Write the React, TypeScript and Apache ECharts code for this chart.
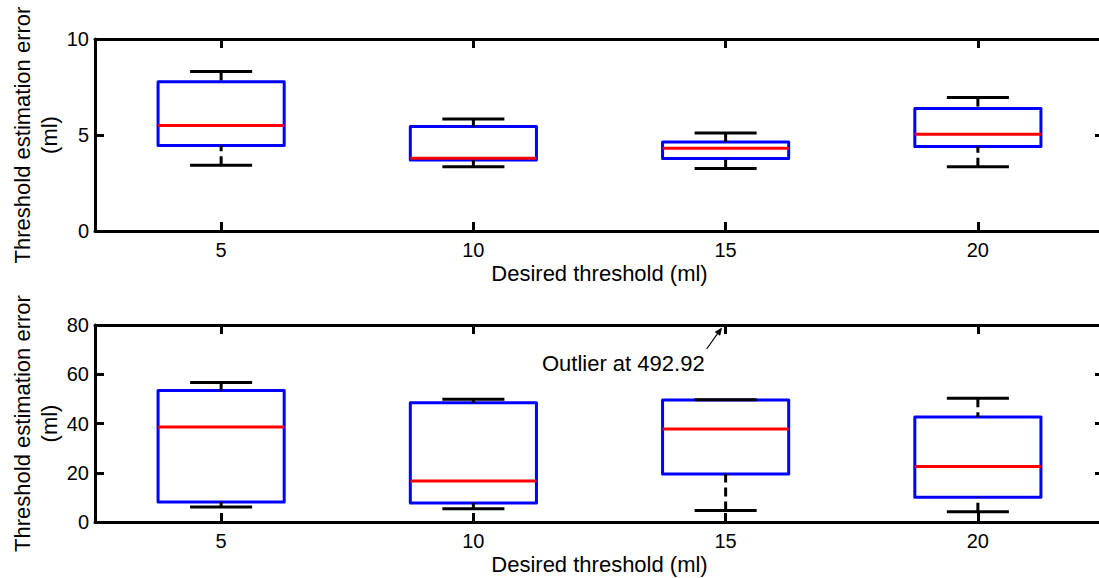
import React, { useEffect, useRef } from "react";
import * as echarts from "echarts";

// Desired threshold groups (ml)
const categories = ["5", "10", "15", "20"];

// Box statistics per group: [lower whisker, Q1, median, Q3, upper whisker]
const topStats = [
  [3.43, 4.45, 5.49, 7.77, 8.31],
  [3.35, 3.7, 3.79, 5.44, 5.83],
  [3.25, 3.77, 4.31, 4.64, 5.1],
  [3.35, 4.4, 5.04, 6.38, 6.95],
];
const bottomStats = [
  [6.1, 8.1, 38.6, 53.4, 56.6],
  [5.4, 7.7, 16.7, 48.4, 49.8],
  [4.7, 19.5, 37.8, 49.5, 49.6],
  [4.2, 10.1, 22.5, 42.6, 50.3],
];
// Outliers lying above the visible range, per group
const bottomOutliers: (number | null)[] = [null, null, 492.92, null];

const topTicks = { min: 0, max: 10, interval: 5 };
const bottomTicks = { min: 0, max: 80, interval: 20 };

const FONT = "'Liberation Sans', Arial, Helvetica, sans-serif";
const BLACK = "#000000";

function makeRenderer(outliers: (number | null)[], yMax: number) {
  return (params: any, api: any) => {
    const i = api.value(0);
    const lo = api.value(1);
    const q1 = api.value(2);
    const med = api.value(3);
    const q3 = api.value(4);
    const hi = api.value(5);
    const band = api.size([1, 0])[0];
    const half = band * 0.25;
    const capHalf = band * 0.123;
    const pLo = api.coord([i, lo]);
    const pQ1 = api.coord([i, q1]);
    const pMed = api.coord([i, med]);
    const pQ3 = api.coord([i, q3]);
    const pHi = api.coord([i, hi]);
    const cx = pMed[0];
    const whisker = { stroke: BLACK, lineWidth: 3, lineDash: [9, 5], fill: null };
    const solid = { stroke: BLACK, lineWidth: 3, fill: null };
    const children: any[] = [
      {
        type: "rect",
        shape: { x: cx - half, y: pQ3[1], width: half * 2, height: pQ1[1] - pQ3[1] },
        style: { fill: "none", stroke: "#0000ff", lineWidth: 3, lineJoin: "round" },
      },
      { type: "line", shape: { x1: cx, y1: pHi[1], x2: cx, y2: pQ3[1] }, style: whisker },
      { type: "line", shape: { x1: cx, y1: pLo[1], x2: cx, y2: pQ1[1] }, style: whisker },
      { type: "line", shape: { x1: cx - capHalf, y1: pHi[1], x2: cx + capHalf, y2: pHi[1] }, style: solid },
      { type: "line", shape: { x1: cx - capHalf, y1: pLo[1], x2: cx + capHalf, y2: pLo[1] }, style: solid },
      {
        type: "line",
        shape: { x1: cx - half, y1: pMed[1], x2: cx + half, y2: pMed[1] },
        style: { stroke: "#ff0000", lineWidth: 3, fill: null },
      },
    ];
    const out = outliers[params.dataIndex];
    if (out != null && out > yMax) {
      const top = api.coord([i, yMax]);
      const tipX = top[0] - 4;
      const tipY = top[1] + 3;
      const tailX = top[0] - 19;
      const tailY = top[1] + 24;
      const ang = Math.atan2(tipY - tailY, tipX - tailX);
      const hl = 7;
      const hw = 3;
      const bx = tipX - hl * Math.cos(ang);
      const by = tipY - hl * Math.sin(ang);
      children.push(
        {
          type: "line",
          shape: { x1: tailX, y1: tailY, x2: bx, y2: by },
          style: { stroke: BLACK, lineWidth: 1.2, fill: null },
        },
        {
          type: "polygon",
          shape: {
            points: [
              [tipX, tipY],
              [bx + hw * Math.sin(ang), by - hw * Math.cos(ang)],
              [bx - hw * Math.sin(ang), by + hw * Math.cos(ang)],
            ],
          },
          style: { fill: BLACK, stroke: BLACK, lineWidth: 0.5 },
        },
        {
          type: "text",
          style: {
            x: top[0] - 21,
            y: top[1] + 38,
            text: `Outlier at ${out}`,
            align: "right",
            verticalAlign: "middle",
            fontSize: 22,
            fontFamily: FONT,
            fill: BLACK,
          },
        }
      );
    }
    return { type: "group", children };
  };
}

function xAxes(gridIndex: number) {
  const line = { show: true, onZero: false, lineStyle: { color: BLACK, width: 3 } };
  const tick = { show: true, inside: true, length: 9, alignWithLabel: true, lineStyle: { color: BLACK, width: 3 } };
  return [
    {
      type: "category",
      gridIndex,
      data: categories,
      position: "bottom",
      axisLine: line,
      axisTick: tick,
      axisLabel: { color: BLACK, fontSize: 20, fontFamily: FONT, margin: 9 },
      splitLine: { show: false },
      name: "Desired threshold (ml)",
      nameLocation: "middle",
      nameGap: 31,
      nameMoveOverlap: false,
      nameTextStyle: { color: BLACK, fontSize: 22, fontFamily: FONT },
    },
    {
      type: "category",
      gridIndex,
      data: categories,
      position: "top",
      axisLine: line,
      axisTick: tick,
      axisLabel: { show: false },
      splitLine: { show: false },
    },
  ];
}

function yAxes(gridIndex: number, ticks: { min: number; max: number; interval: number }) {
  const line = { show: true, onZero: false, lineStyle: { color: BLACK, width: 3 } };
  const tick = { show: true, inside: true, length: 9, lineStyle: { color: BLACK, width: 3 } };
  return [
    {
      type: "value",
      gridIndex,
      position: "left",
      ...ticks,
      axisLine: line,
      axisTick: tick,
      axisLabel: { color: BLACK, fontSize: 20, fontFamily: FONT, margin: 6 },
      splitLine: { show: false },
      name: "Threshold estimation error\n(ml)",
      nameLocation: "middle",
      nameRotate: 90,
      nameGap: 32,
      nameMoveOverlap: false,
      nameTextStyle: { color: BLACK, fontSize: 22, fontFamily: FONT, lineHeight: 27, align: "center" },
    },
    {
      type: "value",
      gridIndex,
      position: "right",
      ...ticks,
      axisLine: line,
      axisTick: tick,
      axisLabel: { show: false },
      splitLine: { show: false },
    },
  ];
}

export default function App() {
  const ref = useRef<HTMLDivElement>(null);

  useEffect(() => {
    if (!ref.current) return;
    const chart = echarts.init(ref.current, null, { renderer: "svg" });
    const toRows = (stats: number[][]) => stats.map((s, i) => [i, ...s]);
    chart.setOption({
      animation: false,
      backgroundColor: "#ffffff",
      grid: [
        { left: 95, top: 39, width: 1009, height: 192, containLabel: false, outerBoundsMode: "none" },
        { left: 95, top: 325, width: 1009, height: 197, containLabel: false, outerBoundsMode: "none" },
      ],
      xAxis: [...xAxes(0), ...xAxes(1)],
      yAxis: [...yAxes(0, topTicks), ...yAxes(1, bottomTicks)],
      series: [
        {
          type: "custom",
          xAxisIndex: 0,
          yAxisIndex: 0,
          encode: { x: 0, y: [1, 2, 3, 4, 5] },
          renderItem: makeRenderer([null, null, null, null], topTicks.max),
          data: toRows(topStats),
          clip: false,
        },
        {
          type: "custom",
          xAxisIndex: 2,
          yAxisIndex: 2,
          encode: { x: 0, y: [1, 2, 3, 4, 5] },
          renderItem: makeRenderer(bottomOutliers, bottomTicks.max),
          data: toRows(bottomStats),
          clip: false,
        },
      ],
    });
    return () => chart.dispose();
  }, []);

  return (
    <div
      ref={ref}
      style={{ position: "fixed", left: 0, top: 0, width: 1099, height: 578, overflow: "hidden", background: "#fff" }}
    />
  );
}
